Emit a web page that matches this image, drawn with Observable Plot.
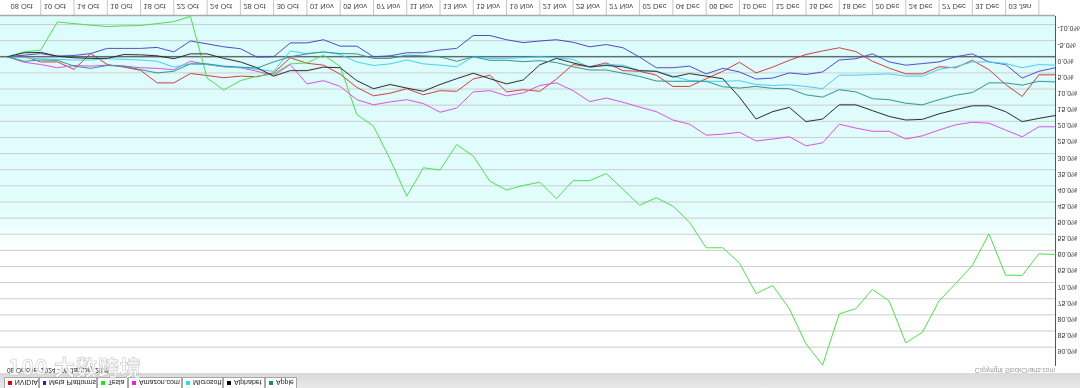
<!DOCTYPE html>
<html>
<head>
<meta charset="utf-8">
<script src="https://cdn.jsdelivr.net/npm/d3@7"></script>
<script src="https://cdn.jsdelivr.net/npm/@observablehq/plot@0.6"></script>
<style>
  html, body { margin:0; padding:0; background:#fff; overflow:hidden; }
  #wrap { position:absolute; left:0; top:0; width:1080px; height:388px; transform: scaleY(-1); transform-origin: 50% 50%; background:#fff; font-family:"Liberation Sans", Arial, sans-serif; color:#333; }
  #band { position:absolute; left:0; top:0; width:1080px; height:15px; background:linear-gradient(to bottom, #e9e9e9, #d9d9d9); }
  .tab { position:absolute; top:0; height:11px; box-sizing:border-box; background:#fff; border:1px solid #a8a8a8; border-top:none; display:flex; align-items:center; padding-left:3px; font-size:7px; color:#222; white-space:nowrap; }
  .tab i { display:inline-block; width:4px; height:4px; margin-right:3px; }
  #range { position:absolute; left:7px; top:14px; font-size:6.5px; color:#222; white-space:nowrap; }
  #copy { position:absolute; right:25px; top:14px; font-size:6.6px; color:#9a9a9a; white-space:nowrap; }
  #bg { position:absolute; left:0; top:22px; width:1055px; height:350px; background:linear-gradient(to top, #dcfcfc 0%, #e3fdfd 55%, #f2ffff 62%, #ffffff 66%); }
  #chart { position:absolute; left:0; top:0; }
  #wm { position:absolute; left:8px; top:351px; font-family:"Noto Sans CJK SC", sans-serif; font-size:21px; font-weight:bold; color:rgba(255,255,255,0.8); -webkit-text-stroke:0.6px rgba(150,150,150,0.55); white-space:nowrap; letter-spacing:1px; }
</style>
</head>
<body>
<div id="wrap">
  <div id="band"></div>
  <div id="tabs"></div>
  <div id="range">08 October 2024 - 08 January 2025</div>
  <div id="copy">Copyright StockCharts.com</div>
  <div id="bg"></div>
  <div id="chart"></div>
</div>
<div id="wm">100 大数跨境</div>
<script>
const names = ["NVIDIA","Meta Platforms","Tesla","Amazon.com","Microsoft","Alphabet","Apple"];
const lineColors = ["#cc3a3a","#4a4ac2","#4cdc4c","#dc4cdc","#44cdee","#262626","#2e9090"];
const legendColors = ["#e00000","#1a1ac8","#22e022","#e020e0","#20e0f0","#000000","#118888"];
const tabLeft = [4,39,97,128,182,223,265];
const tabWidth = [35,58,31,54,41,42,32];

const dateLabels = ["08 Oct","10 Oct","14 Oct","16 Oct","18 Oct","22 Oct","24 Oct","28 Oct","30 Oct","01 Nov","05 Nov","07 Nov","11 Nov","13 Nov","15 Nov","19 Nov","21 Nov","25 Nov","27 Nov","02 Dec","04 Dec","06 Dec","10 Dec","12 Dec","16 Dec","18 Dec","20 Dec","24 Dec","27 Dec","31 Dec","03 Jan"];
const yTicks = [-10,-5,0,5,10,15,20,25,30,35,40,45,50,55,60,65,70,75,80,85,90];

const nvidia = [0,-0.2,1.6,1.6,3.9,-1.0,2.4,3.2,4.2,8.1,8.1,5.2,5.8,6.5,6.0,6.2,5.0,0.3,2.0,2.6,5.4,9.5,12.1,11.3,9.9,11.8,10.5,10.7,6.9,5.7,10.9,10.2,10.7,6.9,2.4,3.1,1.9,4.3,4.5,5.7,9.2,9.2,6.8,4.5,1.7,5.0,3.2,1.1,-0.7,-1.8,-2.8,-1.6,1.4,3.5,5.3,5.3,3.1,3.4,1.1,4.0,8.6,12.3,5.6,5.6];
const meta = [0,-0.5,-1.0,-0.2,-0.4,-1.0,-2.6,-2.6,-2.6,-2.9,-1.5,-4.9,-4.0,-3.1,-2.5,0.1,0.0,-4.3,-4.3,-5.3,-3.3,-3.3,0.0,-0.3,-1.25,-1.25,-2.1,-2.6,-6.6,-6.6,-5.3,-4.4,-4.9,-5.3,-4.5,-3.1,-3.8,-2.8,0.1,3.4,3.4,2.9,5.3,3.6,4.7,6.9,6.6,5.0,5.5,4.7,1.0,0.6,-0.9,1.6,2.6,2.1,1.6,0.0,-0.9,1.6,2.4,6.6,4.5,3.4];
const tesla = [0,-1.5,-2.1,-10.8,-10.3,-9.8,-9.4,-9.6,-9.7,-10.3,-10.9,-12.5,6.6,10.3,7.4,6.0,5.3,2.2,1.9,-0.5,3.0,17.9,21.5,31.8,43.2,34.4,35.1,27.2,30.8,38.6,41.3,39.9,38.9,44.0,38.4,38.4,36.2,41.1,46.0,43.7,46.3,51.3,59.2,59.2,63.9,73.4,70.9,78.1,89.0,95.6,79.7,78.1,72.1,75.7,88.7,85.4,75.7,70.3,64.7,54.9,67.7,67.8,61.1,61.3];
const amazon = [0,1.7,2.4,3.4,2.7,2.9,2.6,2.9,3.4,3.6,4.0,1.4,2.4,3.1,3.4,4.5,5.8,2.4,8.4,7.4,9.2,13.3,14.9,14.0,13.3,14.5,17.2,15.9,10.9,10.5,12.1,11.2,8.9,8.1,10.5,13.9,12.8,14.1,15.6,17.0,19.6,20.9,24.3,24.0,23.4,26.1,25.5,24.8,27.6,26.7,20.9,22.1,23.1,23.1,25.5,24.5,22.7,21.1,20.3,20.6,22.7,24.8,21.7,21.7];
const microsoft = [0,0.3,0.6,0.8,1.0,1.0,0.6,0.8,1.0,1.4,3.2,2.2,2.4,3.1,3.4,3.9,4.5,-1.8,-1.0,-1.5,-0.7,1.6,2.7,2.2,1.0,2.2,2.6,3.1,0.0,0.5,0.5,0.3,0.0,0.3,0.8,3.4,2.4,2.6,4.3,4.5,6.0,7.4,7.6,7.6,7.4,8.6,8.9,8.7,9.2,9.9,5.7,5.7,5.5,5.3,6.0,6.0,3.9,3.1,1.6,1.6,2.1,3.4,2.4,2.6];
const alphabet = [0,-1.25,-1.35,-0.2,0.3,0.5,0.5,-0.7,-0.6,-0.3,0.6,-0.9,-0.9,0.5,1.6,3.4,6.0,4.3,4.3,3.2,3.4,7.4,9.9,8.6,9.7,10.7,8.6,6.8,5.1,6.8,8.4,7.2,2.5,0.5,1.9,3.1,2.7,3.1,4.3,4.5,6.3,5.2,6.0,6.8,12.5,19.3,17.0,15.7,20.1,19.3,14.9,14.9,16.7,18.5,19.6,19.4,17.7,16.4,15.2,15.2,17.0,20.1,19.1,18.2];
const apple = [0,1.4,1.0,1.1,2.9,3.6,2.7,2.9,4.0,5.0,4.5,2.2,2.2,2.9,3.2,3.5,1.6,0.0,-0.9,-1.5,-1.0,-0.9,0.5,0.5,-0.5,-0.3,0.0,1.4,0.0,1.1,1.1,1.5,1.2,1.8,3.1,4.1,4.1,5.1,6.1,7.5,7.6,7.6,7.6,9.3,9.7,9.2,9.8,9.9,11.8,12.5,10.2,10.9,13.0,13.3,14.4,14.9,13.3,11.9,11.1,8.1,8.1,8.8,7.6,7.8];

const series = [nvidia, meta, tesla, amazon, microsoft, alphabet, apple];
const n = nvidia.length;
const tidy = names.flatMap((name, s) => series[s].map((v, i) => ({name, i, v})));

// legend tabs
const tabs = document.getElementById("tabs");
names.forEach((name, k) => {
  const t = document.createElement("div");
  t.className = "tab";
  t.style.left = tabLeft[k] + "px";
  t.style.width = tabWidth[k] + "px";
  t.innerHTML = `<i style="background:${legendColors[k]}"></i>${name}`;
  tabs.appendChild(t);
});

const yDomain = [-12.8, 95.7];
const tickIdx = d3.range(2, n, 2);
const labelIdx = dateLabels.map((d, k) => 2 * k);

const chart = Plot.plot({
  width: 1080,
  height: 388,
  marginLeft: 0,
  marginRight: 25,
  marginTop: 22,
  marginBottom: 16,
  style: {background: "transparent", fontFamily: "'Liberation Sans', Arial, sans-serif", color: "#333", overflow: "visible"},
  x: {domain: [-0.42, n - 1]},
  y: {domain: yDomain},
  color: {domain: names, range: lineColors},
  marks: [
    Plot.ruleY(yTicks.filter(d => d !== 0), {stroke: "#cdcdcd", strokeWidth: 1}),
    Plot.ruleY([0], {stroke: "#2a2a2a", strokeWidth: 1}),
    Plot.axisX({ticks: tickIdx, tickSize: 16, tickFormat: () => "", stroke: "#c6c6c6", label: null}),
    Plot.axisX({ticks: labelIdx, tickSize: 0, tickPadding: 5.7, tickFormat: i => dateLabels[i / 2], textAnchor: "start", dx: 3, fontSize: 7.5, fill: "#444", label: null}),
    Plot.axisY({anchor: "right", ticks: yTicks, tickSize: 0, tickPadding: 2, tickFormat: d => d.toFixed(1) + "%", dy: -4.2, fontSize: 7, fill: "#333", label: null}),
    Plot.ruleY([yDomain[0]], {stroke: "#a9a9a9", strokeWidth: 1.5}),
    Plot.ruleX([n - 1], {stroke: "#555", strokeWidth: 1}),
    Plot.line(tidy, {x: "i", y: "v", z: "name", stroke: "name", strokeWidth: 1})
  ]
});
document.getElementById("chart").appendChild(chart);
</script>
</body>
</html>
